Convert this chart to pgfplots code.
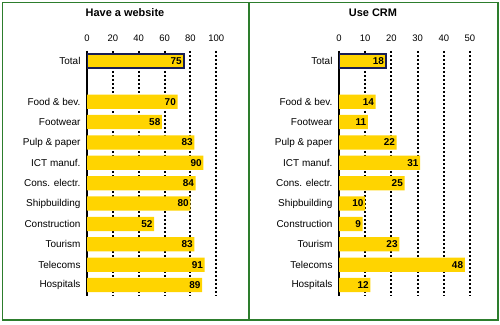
\documentclass[border=0pt]{standalone}
\usepackage{pgfplots}
\pgfplotsset{compat=1.18}
\usepackage{fontspec}
\setmainfont{Liberation Sans}
\definecolor{barY}{RGB}{255,212,0}
\definecolor{navy}{RGB}{25,30,85}
\definecolor{frameG}{RGB}{45,125,45}
\pgfplotsset{panel/.style={
  xbar, scale only axis, height=244.4bp, ymin=-0.5, ymax=11.5, y dir=reverse,
  anchor=north west,
  axis x line*=top, axis y line*=left,
  x axis line style={draw=none},
  y axis line style={line width=2bp,-},
  ytick={0,2,3,4,5,6,7,8,9,10,11},
  yticklabels={Total,Food \& bev.,Footwear,Pulp \& paper,ICT manuf.,Cons. electr.,Shipbuilding,Construction,Tourism,Telecoms,Hospitals},
  major tick length=0pt,
  xmajorgrids,
  major grid style={black, line width=2bp, dash pattern=on 2bp off 2bp},
  /pgf/number format/assume math mode=true,
  xticklabel style={font=\fontsize{9.5}{11}\selectfont, yshift=5.5bp},
  yticklabel style={font=\fontsize{10}{11}\selectfont, xshift=-3bp},
  bar width=0.7,
  point meta=x,
  nodes near coords,
  every node near coord/.append style={anchor=east, font=\bfseries\fontsize{10}{11}\selectfont, inner sep=1.5bp, black},
}}
\begin{document}
\begin{tikzpicture}
\useasboundingbox (0,0) rectangle (500bp,-325bp);
\draw[frameG, line width=1.2bp] (2.5bp,-2.5bp) rectangle (498bp,-320bp);
\draw[frameG, line width=1.2bp] (249bp,-2.5bp) -- (249bp,-320bp);
\node[font=\bfseries\fontsize{11}{13}\selectfont] at (125bp,-13bp) {Have a website};
\node[font=\bfseries\fontsize{11}{13}\selectfont] at (373bp,-13bp) {Use CRM};
\begin{axis}[panel, at={(87bp,-50.8bp)}, width=129.3bp, xmin=0, xmax=100, xtick={0,20,40,60,80,100}]
\addplot[fill=barY, draw=navy, line width=1.5bp, bar shift=0pt] coordinates {(75,0)};
\addplot[fill=barY, draw=none, bar shift=0pt] coordinates {(70,2) (58,3) (83,4) (90,5) (84,6) (80,7) (52,8) (83,9) (91,10) (89,11)};
\end{axis}
\begin{axis}[panel, at={(339bp,-50.8bp)}, width=131bp, xmin=0, xmax=50, xtick={0,10,20,30,40,50}]
\addplot[fill=barY, draw=navy, line width=1.5bp, bar shift=0pt] coordinates {(18,0)};
\addplot[fill=barY, draw=none, bar shift=0pt] coordinates {(14,2) (11,3) (22,4) (31,5) (25,6) (10,7) (9,8) (23,9) (48,10) (12,11)};
\end{axis}
\end{tikzpicture}
\end{document}
